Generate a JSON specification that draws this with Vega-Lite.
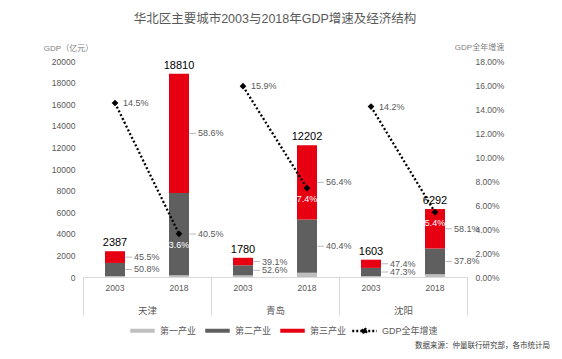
{
  "$schema": "https://vega.github.io/schema/vega-lite/v6.json",
  "width": 384,
  "height": 216,
  "autosize": {"type": "none"},
  "padding": {"left": 83, "top": 61, "right": 95, "bottom": 82},
  "background": "white",
  "config": {
    "font": "Liberation Sans, Noto Sans CJK SC",
    "view": {"stroke": null},
    "axis": {"grid": false}
  },
  "title": {
    "text": "华北区主要城市2003与2018年GDP增速及经济结构",
    "fontSize": 12.5,
    "fontWeight": "normal",
    "color": "#595959",
    "anchor": "middle",
    "frame": "group",
    "offset": 18
  },
  "datasets": {
    "seg": [
      {"city": "天津", "year": "2003", "industry": "第一产业", "rank": 1, "value": 88, "share": 0.037},
      {"city": "天津", "year": "2003", "industry": "第二产业", "rank": 2, "value": 1213, "share": 0.508},
      {"city": "天津", "year": "2003", "industry": "第三产业", "rank": 3, "value": 1086, "share": 0.455},
      {"city": "天津", "year": "2018", "industry": "第一产业", "rank": 1, "value": 169, "share": 0.009},
      {"city": "天津", "year": "2018", "industry": "第二产业", "rank": 2, "value": 7618, "share": 0.405},
      {"city": "天津", "year": "2018", "industry": "第三产业", "rank": 3, "value": 11023, "share": 0.586},
      {"city": "青岛", "year": "2003", "industry": "第一产业", "rank": 1, "value": 148, "share": 0.083},
      {"city": "青岛", "year": "2003", "industry": "第二产业", "rank": 2, "value": 936, "share": 0.526},
      {"city": "青岛", "year": "2003", "industry": "第三产业", "rank": 3, "value": 696, "share": 0.391},
      {"city": "青岛", "year": "2018", "industry": "第一产业", "rank": 1, "value": 390, "share": 0.032},
      {"city": "青岛", "year": "2018", "industry": "第二产业", "rank": 2, "value": 4930, "share": 0.404},
      {"city": "青岛", "year": "2018", "industry": "第三产业", "rank": 3, "value": 6882, "share": 0.564},
      {"city": "沈阳", "year": "2003", "industry": "第一产业", "rank": 1, "value": 85, "share": 0.053},
      {"city": "沈阳", "year": "2003", "industry": "第二产业", "rank": 2, "value": 758, "share": 0.473},
      {"city": "沈阳", "year": "2003", "industry": "第三产业", "rank": 3, "value": 760, "share": 0.474},
      {"city": "沈阳", "year": "2018", "industry": "第一产业", "rank": 1, "value": 258, "share": 0.041},
      {"city": "沈阳", "year": "2018", "industry": "第二产业", "rank": 2, "value": 2378, "share": 0.378},
      {"city": "沈阳", "year": "2018", "industry": "第三产业", "rank": 3, "value": 3656, "share": 0.581}
    ],
    "tot": [
      {"city": "天津", "year": "2003", "total": 2387, "growth": 0.145},
      {"city": "天津", "year": "2018", "total": 18810, "growth": 0.036},
      {"city": "青岛", "year": "2003", "total": 1780, "growth": 0.159},
      {"city": "青岛", "year": "2018", "total": 12202, "growth": 0.074},
      {"city": "沈阳", "year": "2003", "total": 1603, "growth": 0.142},
      {"city": "沈阳", "year": "2018", "total": 6292, "growth": 0.054}
    ]
  },
  "encoding": {
    "x": {
      "field": "city", "type": "nominal",
      "scale": {"domain": ["天津", "青岛", "沈阳"], "paddingInner": 0, "paddingOuter": 0},
      "axis": {
        "title": null, "labelAngle": 0,
        "domainColor": "#d9d9d9", "tickColor": "#d9d9d9",
        "tickBand": "extent", "tickSize": 38,
        "labelPadding": -10, "labelFontSize": 9.5, "labelColor": "#595959"
      }
    },
    "xOffset": {"field": "year", "type": "nominal", "scale": {"paddingInner": 0.6875, "paddingOuter": 0.34375}}
  },
  "layer": [
    {
      "layer": [
        {
          "data": {"name": "seg"},
          "mark": {"type": "bar"},
          "encoding": {
            "y": {
              "field": "value", "type": "quantitative", "stack": "zero",
              "scale": {"domain": [0, 20000], "nice": false},
              "axis": {
                "title": "GDP（亿元）", "format": "d",
                "values": [0, 2000, 4000, 6000, 8000, 10000, 12000, 14000, 16000, 18000, 20000],
                "domain": false, "ticks": false, "labelPadding": 8,
                "labelFontSize": 8.5, "labelColor": "#595959",
                "titleAngle": 0, "titleAlign": "center", "titleBaseline": "middle",
                "titleX": -15, "titleY": -13, "titleFontSize": 8, "titleFontWeight": "normal", "titleColor": "#7f7f7f"
              }
            },
            "color": {
              "field": "industry", "type": "nominal",
              "scale": {"domain": ["第一产业", "第二产业", "第三产业", "GDP全年增速"], "range": ["#bfbfbf", "#5f5f5f", "#e60012", "#000000"]},
              "legend": {
                "orient": "none", "legendX": 55, "legendY": 265,
                "direction": "horizontal", "title": null,
                "symbolType": "stroke", "symbolSize": 600, "symbolStrokeWidth": 4,
                "labelFontSize": 9, "labelColor": "#595959", "labelOffset": 13,
                "columnPadding": 0,
                "encode": {
                  "symbols": {
                    "update": {
                      "shape": {"signal": "datum.value === 'GDP全年增速' ? 'M-1,0H1M-0.22,0L0,-0.22L0.22,0L0,0.22Z' : 'stroke'"},
                      "strokeDash": {"signal": "datum.value === 'GDP全年增速' ? [2,2] : []"},
                      "strokeWidth": {"signal": "datum.value === 'GDP全年增速' ? 2.5 : 4"},
                      "stroke": {"signal": "scale('color', datum.value)"},
                      "fill": {"signal": "datum.value === 'GDP全年增速' ? '#000000' : 'transparent'"},
                      "opacity": {"value": 1},
                      "strokeOpacity": {"value": 1}
                    }
                  }
                }
              }
            },
            "order": {"field": "rank", "type": "quantitative"}
          }
        },
        {
          "data": {"name": "tot"},
          "mark": {"type": "text", "baseline": "bottom", "dy": -3, "fontSize": 11, "color": "#000000"},
          "encoding": {
            "y": {
              "field": "total", "type": "quantitative", "scale": {"domain": [0, 20000], "nice": false},
              "axis": {
                "title": "GDP（亿元）", "format": "d",
                "values": [0, 2000, 4000, 6000, 8000, 10000, 12000, 14000, 16000, 18000, 20000],
                "domain": false, "ticks": false, "labelPadding": 8,
                "labelFontSize": 8.5, "labelColor": "#595959",
                "titleAngle": 0, "titleAlign": "center", "titleBaseline": "middle",
                "titleX": -15, "titleY": -13, "titleFontSize": 8, "titleFontWeight": "normal", "titleColor": "#7f7f7f"
              }
            },
            "text": {"field": "total", "type": "quantitative", "format": "d"}
          }
        },
        {
          "data": {"name": "seg"},
          "transform": [
            {"stack": "value", "groupby": ["city", "year"], "sort": [{"field": "rank", "order": "ascending"}], "as": ["v0", "v1"]},
            {"calculate": "(datum.v0 + datum.v1) / 2", "as": "mid"},
            {"filter": "datum.rank > 1"}
          ],
          "encoding": {
            "y": {
              "field": "mid", "type": "quantitative", "scale": {"domain": [0, 20000], "nice": false},
              "axis": {
                "title": "GDP（亿元）", "format": "d",
                "values": [0, 2000, 4000, 6000, 8000, 10000, 12000, 14000, 16000, 18000, 20000],
                "domain": false, "ticks": false, "labelPadding": 8,
                "labelFontSize": 8.5, "labelColor": "#595959",
                "titleAngle": 0, "titleAlign": "center", "titleBaseline": "middle",
                "titleX": -15, "titleY": -13, "titleFontSize": 8, "titleFontWeight": "normal", "titleColor": "#7f7f7f"
              }
            }
          },
          "layer": [
            {
              "mark": {"type": "text", "align": "left", "baseline": "middle", "dx": 19, "fontSize": 9, "color": "#595959"},
              "encoding": {
                "text": {"field": "share", "type": "quantitative", "format": ".1%"}
              }
            },
            {
              "mark": {"type": "point", "shape": "M0.62,0H1", "size": 1156, "filled": false, "stroke": "#a6a6a6", "strokeWidth": 0.8, "opacity": 1}
            }
          ]
        },
        {
          "data": {"name": "tot"},
          "mark": {"type": "text", "baseline": "middle", "dy": 11, "fontSize": 8.5, "color": "#595959"},
          "encoding": {
            "y": {
              "datum": 0, "type": "quantitative", "scale": {"domain": [0, 20000], "nice": false},
              "axis": {
                "title": "GDP（亿元）", "format": "d",
                "values": [0, 2000, 4000, 6000, 8000, 10000, 12000, 14000, 16000, 18000, 20000],
                "domain": false, "ticks": false, "labelPadding": 8,
                "labelFontSize": 8.5, "labelColor": "#595959",
                "titleAngle": 0, "titleAlign": "center", "titleBaseline": "middle",
                "titleX": -15, "titleY": -13, "titleFontSize": 8, "titleFontWeight": "normal", "titleColor": "#7f7f7f"
              }
            },
            "text": {"field": "year", "type": "nominal"}
          }
        },
        {
          "data": {"name": "tot"},
          "transform": [{"filter": "datum.city === '沈阳' && datum.year === '2018'"}],
          "mark": {"type": "text", "align": "right", "baseline": "middle", "dx": 115, "dy": 69, "fontSize": 7.5, "color": "#404040", "text": "数据来源：仲量联行研究部，各市统计局"},
          "encoding": {
            "y": {
              "datum": 0, "type": "quantitative", "scale": {"domain": [0, 20000], "nice": false},
              "axis": {
                "title": "GDP（亿元）", "format": "d",
                "values": [0, 2000, 4000, 6000, 8000, 10000, 12000, 14000, 16000, 18000, 20000],
                "domain": false, "ticks": false, "labelPadding": 8,
                "labelFontSize": 8.5, "labelColor": "#595959",
                "titleAngle": 0, "titleAlign": "center", "titleBaseline": "middle",
                "titleX": -15, "titleY": -13, "titleFontSize": 8, "titleFontWeight": "normal", "titleColor": "#7f7f7f"
              }
            }
          }
        }
      ]
    },
    {
      "data": {"name": "tot"},
      "encoding": {
        "y": {
          "field": "growth", "type": "quantitative",
          "scale": {"domain": [0, 0.18], "nice": false},
          "axis": {
            "orient": "right", "format": ".2%",
            "values": [0, 0.02, 0.04, 0.06, 0.08, 0.1, 0.12, 0.14, 0.16, 0.18],
            "domain": false, "ticks": false, "labelPadding": 8,
            "labelFontSize": 8.5, "labelColor": "#595959",
            "title": "GDP全年增速", "titleAngle": 0, "titleAlign": "center", "titleBaseline": "middle",
            "titleX": 12, "titleY": -14, "titleFontSize": 8, "titleFontWeight": "normal", "titleColor": "#7f7f7f"
          }
        }
      },
      "layer": [
        {
          "mark": {"type": "line", "color": "#000000", "strokeDash": [2, 2.2], "strokeWidth": 2.3},
          "encoding": {"detail": {"field": "city", "type": "nominal"}}
        },
        {
          "mark": {"type": "point", "shape": "diamond", "filled": true, "color": "#000000", "size": 45, "opacity": 1}
        },
        {
          "transform": [{"filter": "datum.year === '2003'"}],
          "mark": {"type": "text", "align": "left", "baseline": "middle", "dx": 8, "fontSize": 9, "color": "#595959"},
          "encoding": {"text": {"field": "growth", "type": "quantitative", "format": ".1%"}}
        },
        {
          "transform": [{"filter": "datum.year === '2018'"}],
          "mark": {"type": "text", "align": "center", "baseline": "middle", "dy": 11, "fontSize": 9, "color": "#ffffff"},
          "encoding": {"text": {"field": "growth", "type": "quantitative", "format": ".1%"}}
        }
      ]
    }
  ],
  "resolve": {"scale": {"y": "independent"}}
}
